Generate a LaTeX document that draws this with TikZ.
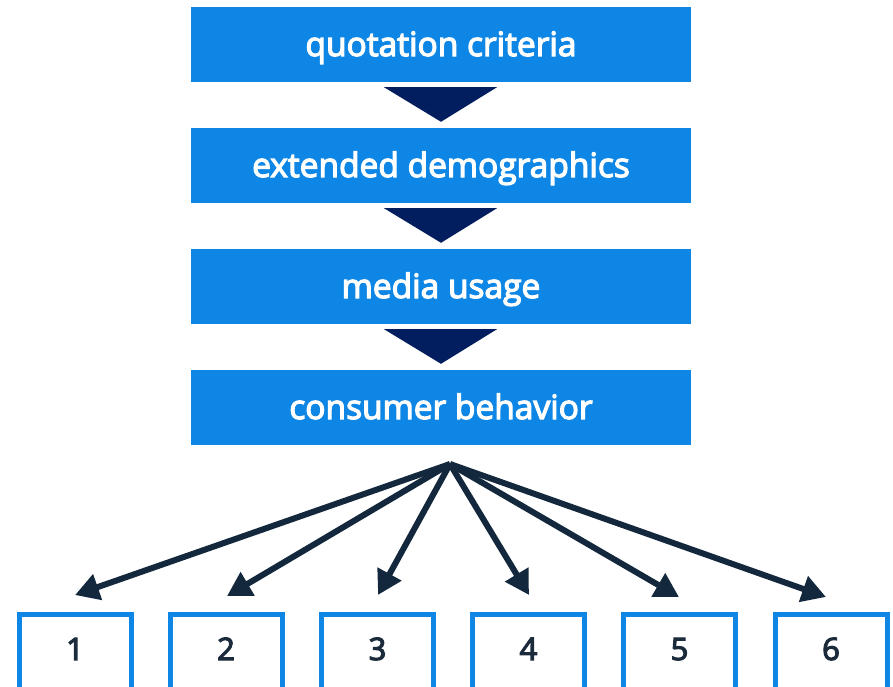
\documentclass[tikz,border=0pt]{standalone}
\usepackage{fontspec}
\setmainfont{Open Sans}
\newfontfamily\semib{Open Sans}[FakeBold=3.6]
\usetikzlibrary{arrows.meta}
\definecolor{boxblue}{HTML}{0D86E5}
\definecolor{navytri}{HTML}{031E5E}
\definecolor{arrowdark}{HTML}{13283C}
\definecolor{numdark}{HTML}{1B2B3B}
\tikzset{
  stage/.style={fill=boxblue, minimum width=500pt, minimum height=75pt, inner sep=0pt,
    text=white, text height=23pt, text depth=0pt,
    font=\semib\fontsize{33.5}{36}\selectfont},
  numbox/.style={draw=boxblue, line width=5pt, fill=white, minimum width=112pt,
    minimum height=76pt, inner sep=0pt, anchor=north},
  numtext/.style={text=numdark, anchor=base, inner sep=0pt,
    font=\semib\fontsize{31}{34}\selectfont},
  tri/.style={fill=navytri},
  arr/.style={draw=arrowdark, line width=6pt, -{Triangle[length=24pt,width=26pt]}}
}
\begin{document}
\begin{tikzpicture}[x=1pt,y=-1pt]
\useasboundingbox (0,0) rectangle (893,686);
\clip (0,0) rectangle (893,686);
% stage boxes
\node[stage] (s1) at (441,44.5) {quotation criteria};
\node[stage] (s2) at (441,165.5) {extended demographics};
\node[stage] (s3) at (441,286.5) {media usage};
\node[stage] (s4) at (441,407.5) {consumer behavior};
% triangles between stages
\foreach \a/\b in {s1/s2,s2/s3,s3/s4}{
  \fill[tri] ([xshift=-57pt,yshift=-5pt]\a.south) -- ([xshift=56pt,yshift=-5pt]\a.south)
    -- ([yshift=6pt]\b.north) -- cycle;
}
% number boxes
\foreach \i/\x in {1/75,2/226,3/377.5,4/528.5,5/679.5,6/831}{
  \node[numbox] (b\i) at (\x,611.5) {};
  \node[numtext] (n\i) at (\x,660) {\i};
}
% hub and arrow tips
\coordinate (hub) at (450,464);
\coordinate (t1) at (75,595);
\coordinate (t2) at (227,596);
\coordinate (t3) at (378,595);
\coordinate (t4) at (529,595);
\coordinate (t5) at (679,597);
\coordinate (t6) at (826,597);
\foreach \i in {1,...,6}{
  \draw[arr] (hub) -- (t\i);
}
\end{tikzpicture}
\end{document}
